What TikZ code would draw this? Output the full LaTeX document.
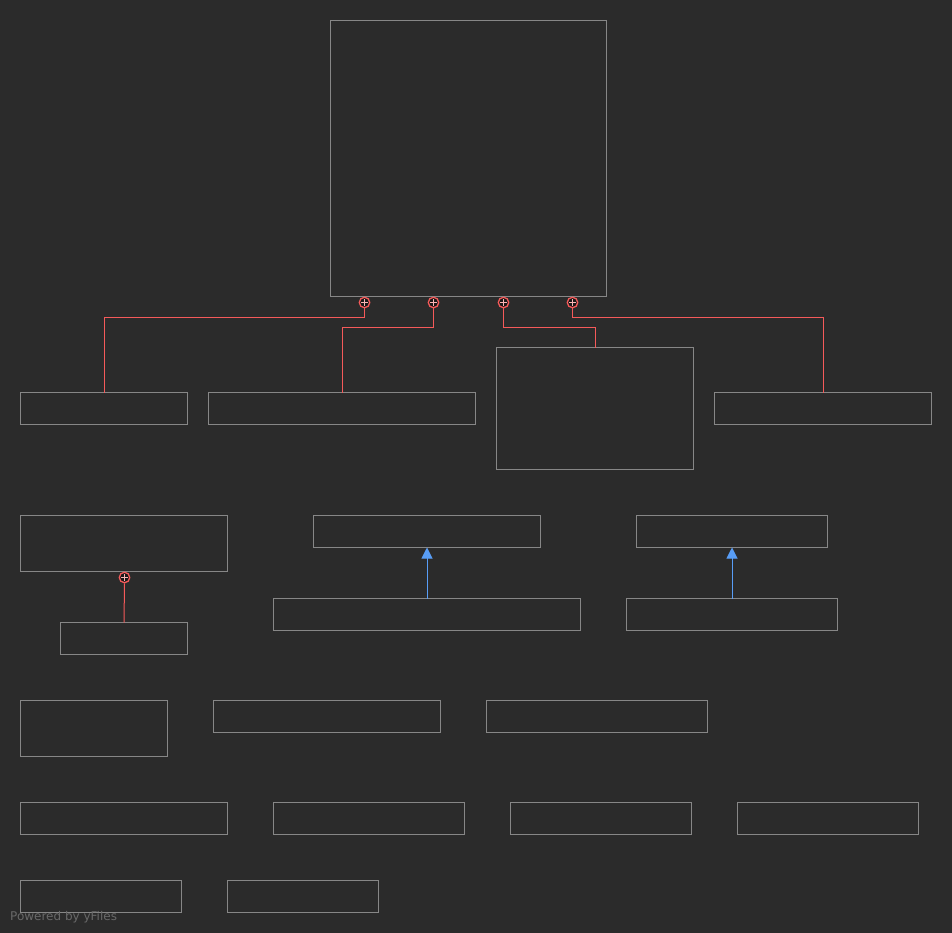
\documentclass[tikz,border=0pt]{standalone}
\usepackage{xcolor}
\usepackage{fontspec}
\setsansfont{DejaVu Sans}
\usepackage{tikz}
\usetikzlibrary{arrows.meta,positioning}
\definecolor{canvasbg}{RGB}{43,43,43}
\definecolor{boxgray}{RGB}{135,135,135}
\definecolor{nestred}{RGB}{245,90,90}
\definecolor{markfill}{RGB}{25,25,25}
\definecolor{inheritblue}{RGB}{88,157,246}
\definecolor{footgray}{RGB}{105,105,105}

\begin{document}
\begin{tikzpicture}[
    x=1pt, y=-1pt,
    box/.style={rectangle, draw=boxgray, line width=1pt, inner sep=0pt, outer sep=0pt, anchor=north west},
    nestmark/.style={circle, draw=nestred, fill=markfill, line width=1.3pt, minimum size=10.5pt, inner sep=0pt,
        path picture={\draw[nestred!45!white, line width=1.2pt] (path picture bounding box.center) ++(-3.5pt,0) -- ++(7pt,0)
            (path picture bounding box.center) ++(0,-3.5pt) -- ++(0,7pt);}},
    nest/.style={nestred, line width=1pt},
    inherit/.style={-{Triangle[width=11pt,length=11pt]}, inheritblue, line width=1pt}
]
    % background and page size
    \fill[canvasbg] (0,0) rectangle (952,933);
    \useasboundingbox (0,0) rectangle (952,933);

    \begin{scope}[shift={(0.5,0.5)}]
    % top class
    \node[box, minimum width=276pt, minimum height=276pt] (root) at (330,20) {};

    % nested classes of the top class
    \node[box, minimum width=167pt, minimum height=32pt] (na) at (20,392) {};
    \node[box, minimum width=267pt, minimum height=32pt] (nb) at (208,392) {};
    \node[box, minimum width=197pt, minimum height=122pt] (nc) at (496,347) {};
    \node[box, minimum width=217pt, minimum height=32pt] (nd) at (714,392) {};

    % second row
    \node[box, minimum width=207pt, minimum height=56pt] (outer) at (20,515) {};
    \node[box, minimum width=127pt, minimum height=32pt] (inner) at (60,622) {};
    \node[box, minimum width=227pt, minimum height=32pt] (basel) at (313,515) {};
    \node[box, minimum width=307pt, minimum height=32pt] (subl) at (273,598) {};
    \node[box, minimum width=191pt, minimum height=32pt] (baser) at (636,515) {};
    \node[box, minimum width=211pt, minimum height=32pt] (subr) at (626,598) {};

    % loose classes
    \node[box, minimum width=147pt, minimum height=56pt] (k1) at (20,700) {};
    \node[box, minimum width=227pt, minimum height=32pt] (k2) at (213,700) {};
    \node[box, minimum width=221pt, minimum height=32pt] (k3) at (486,700) {};
    \node[box, minimum width=207pt, minimum height=32pt] (m1) at (20,802) {};
    \node[box, minimum width=191pt, minimum height=32pt] (m2) at (273,802) {};
    \node[box, minimum width=181pt, minimum height=32pt] (m3) at (510,802) {};
    \node[box, minimum width=181pt, minimum height=32pt] (m4) at (737,802) {};
    \node[box, minimum width=161pt, minimum height=32pt] (r1) at (20,880) {};
    \node[box, minimum width=151pt, minimum height=32pt] (r2) at (227,880) {};

    % nesting markers and edges
    \node[nestmark] (p1) at (364,302) {};
    \node[nestmark] (p2) at (433,302) {};
    \node[nestmark] (p3) at (503,302) {};
    \node[nestmark] (p4) at (572,302) {};
    \node[nestmark] (p5) at (124,577) {};
    \draw[nest] (p1.south) -- ++(0,9) -| (na.north);
    \draw[nest] (p2.south) -- ++(0,19) -| (nb.north);
    \draw[nest] (p3.south) -- ++(0,19) -| (nc.north);
    \draw[nest] (p4.south) -- ++(0,9) -| (nd.north);
    \draw[nest] (p5.south) -- (inner.north);

    % inheritance
    \draw[inherit] (subl.north) -- (basel.south);
    \draw[inherit] (subr.north) -- (baser.south);
    \end{scope}

    \node[anchor=base west, inner sep=0pt, text=footgray, font=\sffamily\fontsize{12}{14}\selectfont] (credit) at (10,920) {Powered by yFiles};
\end{tikzpicture}
\end{document}
